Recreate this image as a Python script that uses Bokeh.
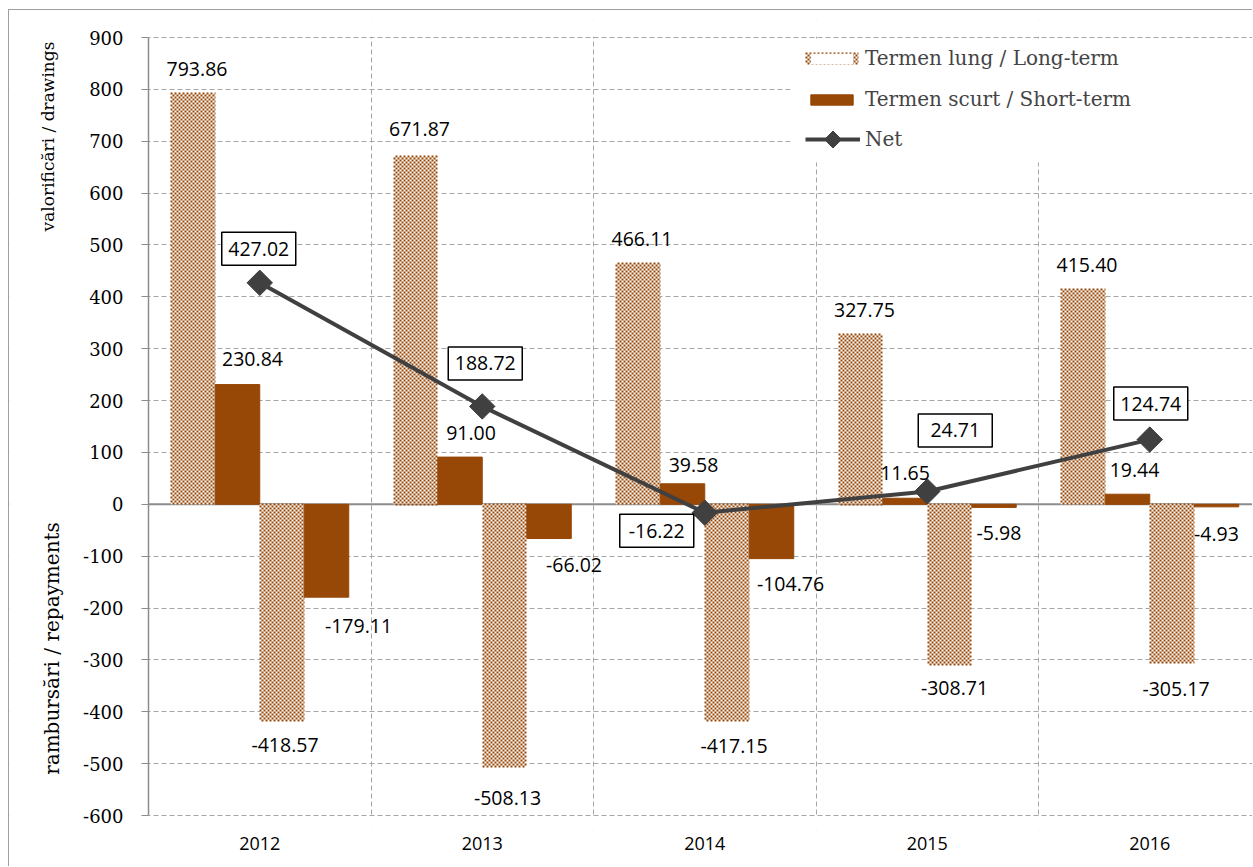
import math
import numpy as np
from bokeh.plotting import figure
from bokeh.models import (ColumnDataSource, Range1d, FixedTicker, PrintfTickFormatter, Span,
                          BoxAnnotation, Label, Legend, LegendItem)
from bokeh.core.properties import value
from bokeh.embed import file_html
from bokeh.resources import INLINE

# ---------------- data ----------------
years = ["2012", "2013", "2014", "2015", "2016"]
lt_draw = [793.86, 671.87, 466.11, 327.75, 415.40]
st_draw = [230.84, 91.00, 39.58, 11.65, 19.44]
lt_repay = [-418.57, -508.13, -417.15, -308.71, -305.17]
st_repay = [-179.11, -66.02, -104.76, -5.98, -4.93]
net = [427.02, 188.72, -16.22, 24.71, 124.74]
y_ticks = list(range(-600, 901, 100))

# ---------------- style / layout ----------------
BROWN = "#974706"
DARK = "#404040"
GRID = "#a6a6a6"
AXIS = "#8c8c8c"
AX_LEFT, AX_TOP, AX_BOTTOM = 148, 37, 815     # screen px of x=0, y=900, y=-600
PX_PER_UNIT = (AX_BOTTOM - AX_TOP) / 1500.0
PX_PER_CAT = 222.5
CANVAS_LEFT, CANVAS_TOP = 9, 10
FRAME_TOP, FRAME_BOTTOM = 20, 830               # screen px of the (larger) frame

# label offsets (px) : (dx, dy_up) relative to bar end, per series
off_lt_d = [(4, 24), (4, 27), (4, 24), (4, 24), (4, 24)]
off_st_d = [(15, 26), (11, 24), (11, 19), (0, 25), (7, 24)]
off_lt_r = [(3, -24), (3, -30), (7, -25), (5, -24), (4, -26)]
off_st_r = [(32, -29), (25, -26), (19, -25), (5, -26), (0, -27)]
off_net = [(-1, 34), (3, 43), (-48, -18), (28, 61), (1, 36)]


def sy_to_y(sy):
    return 900 - (sy - AX_TOP) / PX_PER_UNIT


def y_to_sy(y):
    return AX_TOP + (900 - y) * PX_PER_UNIT


def sx_to_x(sx):
    return (sx - AX_LEFT) / PX_PER_CAT


def x_to_sx(x):
    return AX_LEFT + x * PX_PER_CAT


x_start, x_end = sx_to_x(CANVAS_LEFT), sx_to_x(1253)
y_start, y_end = sy_to_y(FRAME_BOTTOM), sy_to_y(FRAME_TOP)

p = figure(width=1244, height=857, x_range=Range1d(x_start, x_end), y_range=Range1d(y_start, y_end),
           output_backend="svg", toolbar_location=None,
           min_border_left=0, min_border_right=0,
           min_border_top=FRAME_TOP - CANVAS_TOP, min_border_bottom=CANVAS_TOP + 857 - FRAME_BOTTOM)
p.outline_line_color = None
p.styles = {"margin-left": "8px", "margin-top": "9px",
            "border-left": "1px solid #a0a0a0", "border-top": "1px solid #a0a0a0"}

xc = np.arange(len(years)) + 0.5
offs = [-0.3, -0.1, 0.1, 0.3]
bw = 0.2

# grids
p.ygrid.ticker = FixedTicker(ticks=[t for t in y_ticks if t != 0])
p.xgrid.ticker = FixedTicker(ticks=[1, 2, 3, 4])
for g in (p.xgrid, p.ygrid):
    g.grid_line_color = GRID
    g.grid_line_dash = "5 3"
    g.grid_line_width = 1

p.add_layout(Span(location=0, dimension="width", line_color=AXIS, line_width=2, level="underlay"))
# blank areas outside the plotting area (left of axis, above 900, below -600)
p.add_layout(BoxAnnotation(right=0, fill_color="white", fill_alpha=1, line_color=None, level="underlay"))
p.add_layout(BoxAnnotation(bottom=900 + 0.8 / PX_PER_UNIT, fill_color="white", fill_alpha=1,
                           line_color=None, level="underlay"))
p.add_layout(BoxAnnotation(top=-600 - 0.8 / PX_PER_UNIT, fill_color="white", fill_alpha=1,
                           line_color=None, level="underlay"))

# bars
r_ltd = p.vbar(x=xc + offs[0], top=lt_draw, bottom=0, width=bw, fill_color="white", line_color=None)
r_std = p.vbar(x=xc + offs[1], top=st_draw, bottom=0, width=bw, fill_color=BROWN, line_color=BROWN)
r_ltr = p.vbar(x=xc + offs[2], top=0, bottom=lt_repay, width=bw, fill_color="white", line_color=None)
r_str = p.vbar(x=xc + offs[3], top=0, bottom=st_repay, width=bw, fill_color=BROWN, line_color=BROWN)


# checker texture of the long-term bars: pixel-aligned rows of 2px dashes, alternating phase
def checker_rows(sx0, sx1, sy_a, sy_b, xs_e, ys_e, xs_o, ys_o):
    top, bot = min(sy_a, sy_b), max(sy_a, sy_b)
    x0, x1 = sx_to_x(round(sx0)), sx_to_x(round(sx1))
    r = math.floor(top)
    while r + 1 <= bot + 0.5:
        yy = sy_to_y(r + 1)
        if (r // 2) % 2 == 0:
            xs_e.append([x0, x1]); ys_e.append([yy, yy])
        else:
            xs_o.append([x0, x1]); ys_o.append([yy, yy])
        r += 2


xs_e, ys_e, xs_o, ys_o = [], [], [], []
for series, k in ((lt_draw, 0), (lt_repay, 2)):
    for i, v in enumerate(series):
        bx0 = xc[i] + offs[k] - bw / 2
        checker_rows(x_to_sx(bx0), x_to_sx(bx0 + bw), y_to_sy(v), y_to_sy(0), xs_e, ys_e, xs_o, ys_o)
p.multi_line(xs_e, ys_e, line_color=BROWN, line_width=2, line_dash="2 2", line_dash_offset=0)
p.multi_line(xs_o, ys_o, line_color=BROWN, line_width=2, line_dash="2 2", line_dash_offset=2)

# net
r_line = p.line(xc, net, line_color=DARK, line_width=4)
r_pts = p.scatter(xc, net, marker="square", size=18, angle=np.pi / 4, fill_color=DARK, line_color=DARK)

# value labels for bars
lx, ly, lt = [], [], []
for series, off, k in ((lt_draw, off_lt_d, 0), (st_draw, off_st_d, 1), (lt_repay, off_lt_r, 2), (st_repay, off_st_r, 3)):
    for i, v in enumerate(series):
        lx.append(xc[i] + offs[k] + off[i][0] / PX_PER_CAT)
        ly.append(v + off[i][1] / PX_PER_UNIT)
        lt.append(f"{v:.2f}")
p.text(x=lx, y=ly, text=lt, text_align="center", text_baseline="middle",
       text_font=value("Open Sans"), text_font_size="19.5px", text_color="black")

# net labels (boxed)
nsrc = ColumnDataSource(dict(
    x=[xc[i] + off_net[i][0] / PX_PER_CAT for i in range(len(net))],
    y=[net[i] + off_net[i][1] / PX_PER_UNIT for i in range(len(net))],
    t=[f"{v:.2f}" for v in net]))
p.rect(x="x", y="y", width=74, height=33, width_units="screen", height_units="screen",
       fill_color="white", line_color="black", line_width=1.5, source=nsrc)
p.text(x="x", y="y", text="t", source=nsrc, text_align="center", text_baseline="middle",
       text_font=value("Open Sans"), text_font_size="19.5px", text_color="black")

# axes
p.yaxis.fixed_location = 0
p.yaxis.bounds = (-600, 900)
p.yaxis.ticker = FixedTicker(ticks=y_ticks)
p.yaxis.formatter = PrintfTickFormatter(format="%d")
p.yaxis.axis_line_color = AXIS
p.yaxis.axis_line_width = 1.5
p.yaxis.major_tick_line_color = AXIS
p.yaxis.major_tick_in = 0
p.yaxis.major_tick_out = 7
p.yaxis.minor_tick_line_color = None
p.yaxis.major_label_standoff = 18
p.yaxis.major_label_text_font = "DejaVu Serif"
p.yaxis.major_label_text_font_size = "18px"
p.yaxis.major_label_text_color = "black"

p.xaxis.ticker = FixedTicker(ticks=list(xc))
p.xaxis.major_label_overrides = {float(x): y for x, y in zip(xc, years)}
p.xaxis.axis_line_color = None
p.xaxis.major_tick_line_color = None
p.xaxis.minor_tick_line_color = None
p.xaxis.major_label_standoff = 0
p.xaxis.major_label_text_font = "Open Sans"
p.xaxis.major_label_text_font_size = "18px"
p.xaxis.major_label_text_color = "black"

# y axis titles
p.add_layout(Label(x=sx_to_x(47), y=sy_to_y(136), text="valorificări / drawings",
                   angle=np.pi / 2, text_align="center", text_baseline="middle",
                   text_font="DejaVu Serif", text_font_size="17px", text_color="black"))
p.add_layout(Label(x=sx_to_x(51), y=sy_to_y(648), text="rambursări / repayments",
                   angle=np.pi / 2, text_align="center", text_baseline="middle",
                   text_font="DejaVu Serif", text_font_size="20px", text_color="black"))

# legend background and legends
LEG_X = 805                       # screen px of legend glyph left edge
p.add_layout(BoxAnnotation(left=sx_to_x(790), right=x_end + 1, bottom=sy_to_y(162), top=sy_to_y(40),
                           fill_color="white", fill_alpha=1, line_color=None))
L1 = (LEG_X - CANVAS_LEFT, FRAME_BOTTOM - 111)
L2 = (LEG_X - CANVAS_LEFT, FRAME_BOTTOM - 154)
G1W, G1H = 53, 13
G2W, G2H = 55, 30
leg1 = Legend(items=[LegendItem(label="Termen lung / Long-term", renderers=[r_ltd]),
                     LegendItem(label="Termen scurt / Short-term", renderers=[r_std])],
              location=L1, padding=0, margin=0, spacing=17, glyph_width=G1W, glyph_height=G1H,
              label_standoff=7, label_text_font="DejaVu Serif", label_text_font_size="20px",
              background_fill_alpha=0, border_line_color=None)
leg2 = Legend(items=[LegendItem(label="Net", renderers=[r_line])],
              location=L2, padding=0, margin=0, glyph_width=G2W, glyph_height=G2H,
              label_standoff=5, label_text_font="DejaVu Serif", label_text_font_size="20px",
              background_fill_alpha=0, border_line_color=None)
p.add_layout(leg1)
p.add_layout(leg2)

# checker swatch and diamond marker drawn over the legend glyphs
lxs_e, lys_e, lxs_o, lys_o = [], [], [], []
checker_rows(LEG_X, LEG_X + G1W, 52, 64, lxs_e, lys_e, lxs_o, lys_o)
p.multi_line(lxs_e, lys_e, line_color=BROWN, line_width=2, line_dash="2 2", line_dash_offset=0, level="overlay")
p.multi_line(lxs_o, lys_o, line_color=BROWN, line_width=2, line_dash="2 2", line_dash_offset=2, level="overlay")
p.scatter(x=[sx_to_x(LEG_X + G2W / 2)], y=[sy_to_y(139)],
          marker="square", size=12, angle=np.pi / 4, fill_color=DARK, line_color=DARK, level="overlay")

open("out.html", "w").write(file_html(p, INLINE))
